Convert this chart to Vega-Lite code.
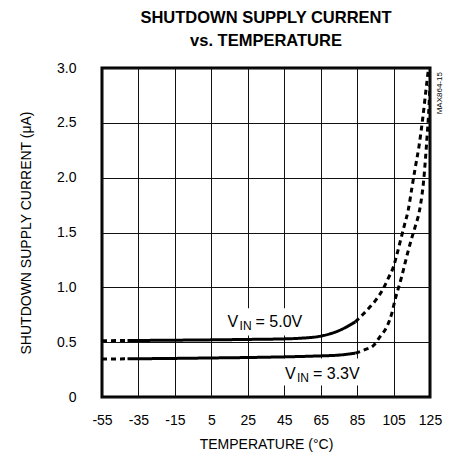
{
  "$schema": "https://vega.github.io/schema/vega-lite/v6.json",
  "width": 328,
  "height": 329,
  "autosize": {"type": "none"},
  "padding": {"left": 102, "top": 68, "right": 24, "bottom": 60},
  "background": "white",
  "title": {
    "text": ["SHUTDOWN SUPPLY CURRENT", "vs. TEMPERATURE"],
    "font": "Liberation Sans",
    "fontSize": 16.5,
    "fontWeight": "bold",
    "color": "black",
    "anchor": "middle",
    "offset": 12,
    "lineHeight": 23
  },
  "config": {
    "view": {"stroke": "black", "strokeWidth": 3},
    "axis": {
      "domain": false,
      "ticks": false,
      "grid": true,
      "gridColor": "#111111",
      "gridWidth": 1,
      "gridOpacity": 1,
      "labelFont": "Liberation Sans",
      "labelFontSize": 14,
      "labelColor": "black",
      "titleFont": "Liberation Sans",
      "titleFontSize": 14,
      "titleFontWeight": "normal",
      "titleColor": "black"
    }
  },
  "datasets": {
    "curves": [
      {"series": "5.0V", "seg": "5a", "style": "dashed", "t": -55, "v": 0.513},
      {"series": "5.0V", "seg": "5a", "style": "dashed", "t": -41, "v": 0.515},
      {"series": "5.0V", "seg": "5b", "style": "solid", "t": -41, "v": 0.515},
      {"series": "5.0V", "seg": "5b", "style": "solid", "t": -15, "v": 0.518},
      {"series": "5.0V", "seg": "5b", "style": "solid", "t": 5, "v": 0.521},
      {"series": "5.0V", "seg": "5b", "style": "solid", "t": 25, "v": 0.525},
      {"series": "5.0V", "seg": "5b", "style": "solid", "t": 45, "v": 0.53},
      {"series": "5.0V", "seg": "5b", "style": "solid", "t": 55, "v": 0.537},
      {"series": "5.0V", "seg": "5b", "style": "solid", "t": 65, "v": 0.555},
      {"series": "5.0V", "seg": "5b", "style": "solid", "t": 75, "v": 0.605},
      {"series": "5.0V", "seg": "5b", "style": "solid", "t": 84, "v": 0.685},
      {"series": "5.0V", "seg": "5c", "style": "dashed", "t": 84, "v": 0.685},
      {"series": "5.0V", "seg": "5c", "style": "dashed", "t": 88, "v": 0.75},
      {"series": "5.0V", "seg": "5c", "style": "dashed", "t": 92, "v": 0.82},
      {"series": "5.0V", "seg": "5c", "style": "dashed", "t": 96, "v": 0.9},
      {"series": "5.0V", "seg": "5c", "style": "dashed", "t": 99.4, "v": 0.99},
      {"series": "5.0V", "seg": "5c", "style": "dashed", "t": 102, "v": 1.08},
      {"series": "5.0V", "seg": "5c", "style": "dashed", "t": 105, "v": 1.19},
      {"series": "5.0V", "seg": "5c", "style": "dashed", "t": 107, "v": 1.31},
      {"series": "5.0V", "seg": "5c", "style": "dashed", "t": 109, "v": 1.44},
      {"series": "5.0V", "seg": "5c", "style": "dashed", "t": 111, "v": 1.57},
      {"series": "5.0V", "seg": "5c", "style": "dashed", "t": 113, "v": 1.7},
      {"series": "5.0V", "seg": "5c", "style": "dashed", "t": 115, "v": 1.9},
      {"series": "5.0V", "seg": "5c", "style": "dashed", "t": 117, "v": 2.1},
      {"series": "5.0V", "seg": "5c", "style": "dashed", "t": 119, "v": 2.29},
      {"series": "5.0V", "seg": "5c", "style": "dashed", "t": 121, "v": 2.54},
      {"series": "5.0V", "seg": "5c", "style": "dashed", "t": 123, "v": 2.83},
      {"series": "5.0V", "seg": "5c", "style": "dashed", "t": 124.2, "v": 3.0},
      {"series": "3.3V", "seg": "3a", "style": "dashed", "t": -55, "v": 0.346},
      {"series": "3.3V", "seg": "3a", "style": "dashed", "t": -41, "v": 0.348},
      {"series": "3.3V", "seg": "3b", "style": "solid", "t": -41, "v": 0.348},
      {"series": "3.3V", "seg": "3b", "style": "solid", "t": -15, "v": 0.352},
      {"series": "3.3V", "seg": "3b", "style": "solid", "t": 5, "v": 0.356},
      {"series": "3.3V", "seg": "3b", "style": "solid", "t": 25, "v": 0.36},
      {"series": "3.3V", "seg": "3b", "style": "solid", "t": 45, "v": 0.366},
      {"series": "3.3V", "seg": "3b", "style": "solid", "t": 65, "v": 0.375},
      {"series": "3.3V", "seg": "3b", "style": "solid", "t": 75, "v": 0.382},
      {"series": "3.3V", "seg": "3b", "style": "solid", "t": 84, "v": 0.4},
      {"series": "3.3V", "seg": "3c", "style": "dashed", "t": 84, "v": 0.4},
      {"series": "3.3V", "seg": "3c", "style": "dashed", "t": 89, "v": 0.43},
      {"series": "3.3V", "seg": "3c", "style": "dashed", "t": 94, "v": 0.47},
      {"series": "3.3V", "seg": "3c", "style": "dashed", "t": 97.6, "v": 0.55},
      {"series": "3.3V", "seg": "3c", "style": "dashed", "t": 101.3, "v": 0.64},
      {"series": "3.3V", "seg": "3c", "style": "dashed", "t": 104, "v": 0.76},
      {"series": "3.3V", "seg": "3c", "style": "dashed", "t": 105.8, "v": 0.885},
      {"series": "3.3V", "seg": "3c", "style": "dashed", "t": 107.6, "v": 0.99},
      {"series": "3.3V", "seg": "3c", "style": "dashed", "t": 109.5, "v": 1.1},
      {"series": "3.3V", "seg": "3c", "style": "dashed", "t": 111.3, "v": 1.22},
      {"series": "3.3V", "seg": "3c", "style": "dashed", "t": 113, "v": 1.33},
      {"series": "3.3V", "seg": "3c", "style": "dashed", "t": 115, "v": 1.45},
      {"series": "3.3V", "seg": "3c", "style": "dashed", "t": 117, "v": 1.56},
      {"series": "3.3V", "seg": "3c", "style": "dashed", "t": 119, "v": 1.68},
      {"series": "3.3V", "seg": "3c", "style": "dashed", "t": 120.5, "v": 1.83},
      {"series": "3.3V", "seg": "3c", "style": "dashed", "t": 121.5, "v": 1.97},
      {"series": "3.3V", "seg": "3c", "style": "dashed", "t": 122.5, "v": 2.17},
      {"series": "3.3V", "seg": "3c", "style": "dashed", "t": 123.5, "v": 2.4},
      {"series": "3.3V", "seg": "3c", "style": "dashed", "t": 124.3, "v": 2.6},
      {"series": "3.3V", "seg": "3c", "style": "dashed", "t": 125, "v": 2.85}
    ],
    "labels": [
      {"series": "5.0V", "t": 13.9, "v": 0.64, "eq": "= 5.0V"},
      {"series": "3.3V", "t": 45.4, "v": 0.16, "eq": "= 3.3V"}
    ],
    "boxes": [
      {"t": 11, "t2": 57, "v": 0.56, "v2": 0.81},
      {"t": 42, "t2": 88, "v": 0.105, "v2": 0.35}
    ],
    "note": [
      {"t": 125, "v": 2.77, "txt": "MAX864-15"}
    ]
  },
  "encoding": {
    "x": {
      "field": "t",
      "type": "quantitative",
      "scale": {"domain": [-55, 125], "nice": false, "zero": false},
      "axis": {
        "values": [-55, -35, -15, 5, 25, 45, 65, 85, 105, 125],
        "labelExpr": "'' + datum.value",
        "labelPadding": 16,
        "titlePadding": 10,
        "labelFlush": false,
        "title": "TEMPERATURE (°C)"
      }
    },
    "y": {
      "field": "v",
      "type": "quantitative",
      "scale": {"domain": [0, 3], "nice": false},
      "axis": {
        "values": [0, 0.5, 1, 1.5, 2, 2.5, 3],
        "labelExpr": "datum.value == 0 ? '0' : format(datum.value, '.1f')",
        "labelPadding": 26,
        "titlePadding": 23,
        "title": "SHUTDOWN SUPPLY CURRENT (μA)"
      }
    }
  },
  "layer": [
    {
      "data": {"name": "boxes"},
      "mark": {"type": "rect", "fill": "white", "stroke": null},
      "encoding": {
        "x2": {"field": "t2"},
        "y2": {"field": "v2"}
      }
    },
    {
      "data": {"name": "curves"},
      "mark": {"type": "line", "color": "black", "strokeWidth": 3, "interpolate": "monotone", "clip": true},
      "encoding": {
        "detail": {"field": "seg", "type": "nominal"},
        "strokeDash": {
          "field": "style",
          "type": "nominal",
          "scale": {"domain": ["solid", "dashed"], "range": [[1, 0], [5, 4]]},
          "legend": null
        }
      }
    },
    {
      "data": {"name": "labels"},
      "mark": {"type": "text", "text": "V", "align": "left", "baseline": "alphabetic", "font": "Liberation Sans", "fontSize": 16, "color": "black"}
    },
    {
      "data": {"name": "labels"},
      "mark": {"type": "text", "text": "IN", "align": "left", "baseline": "alphabetic", "font": "Liberation Sans", "fontSize": 12, "dx": 12, "dy": 3, "color": "black"}
    },
    {
      "data": {"name": "labels"},
      "mark": {"type": "text", "align": "left", "baseline": "alphabetic", "font": "Liberation Sans", "fontSize": 16, "dx": 28, "color": "black"},
      "encoding": {"text": {"field": "eq"}}
    },
    {
      "data": {"name": "note"},
      "mark": {"type": "text", "angle": 270, "align": "center", "baseline": "middle", "font": "Liberation Sans", "fontSize": 8, "dy": 10, "color": "black"},
      "encoding": {"text": {"field": "txt"}}
    }
  ]
}
